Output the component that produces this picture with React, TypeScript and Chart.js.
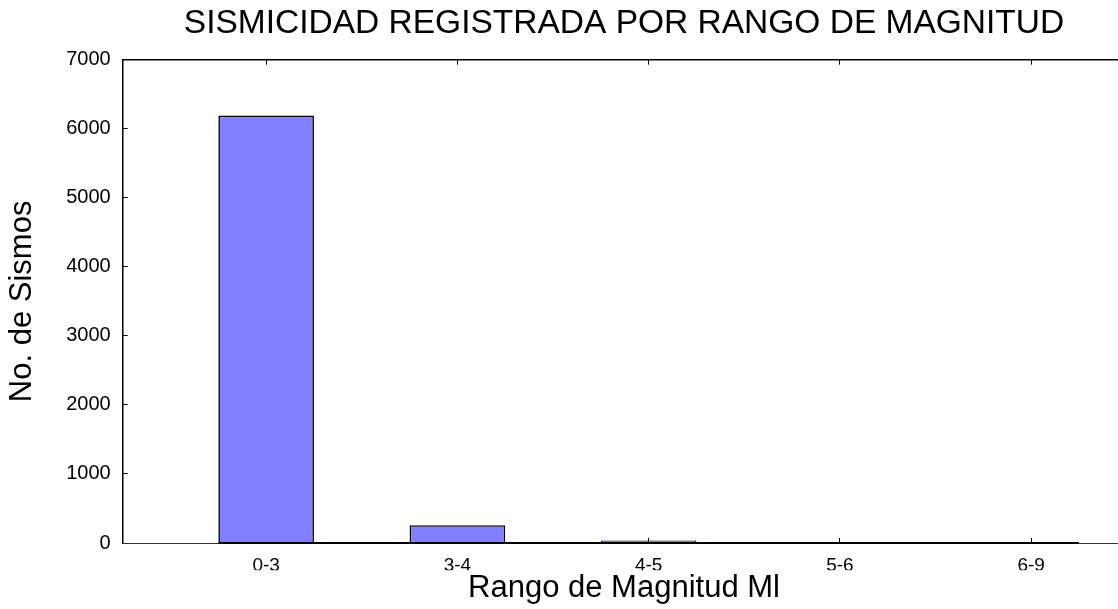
import React, { useEffect, useRef } from "react";
import { Chart, registerables } from "chart.js";

Chart.register(...registerables);

const titleText = "SISMICIDAD REGISTRADA POR RANGO DE MAGNITUD";
const xTitle = "Rango de Magnitud Ml";
const yTitle = "No. de Sismos";
const categories = ["0-3", "3-4", "4-5", "5-6", "6-9"];
const counts = [6190, 258, 36, 6, 1];
const yMin = 0;
const yMax = 7000;
const yStep = 1000;

const FONT = "'Liberation Sans', Arial, Helvetica, sans-serif";
const BAR_FRACTION = 0.5;

export default function App() {
  const ref = useRef<HTMLCanvasElement | null>(null);

  useEffect(() => {
    if (!ref.current) return;
    const idx = categories.map((_, i) => i);
    const catTicks = (scale: any) => {
      scale.ticks = idx.map((i) => ({ value: i }));
    };
    const xMin = -0.75;
    const xMax = categories.length - 1 + 0.75;
    const chart = new Chart(ref.current, {
      type: "bar",
      data: {
        datasets: [
          {
            type: "line",
            data: [
              { x: -BAR_FRACTION / 2, y: 0 },
              { x: categories.length - 1 + BAR_FRACTION / 2, y: 0 },
            ],
            borderColor: "#000",
            borderWidth: 2,
            pointRadius: 0,
            clip: false,
            order: 0,
          } as any,
          {
            type: "bar",
            data: counts.map((v, i) => ({ x: i, y: v })),
            backgroundColor: "#8080ff",
            borderColor: "#000",
            borderWidth: 1.6,
            categoryPercentage: BAR_FRACTION,
            barPercentage: 1,
            order: 1,
          } as any,
        ],
      },
      options: {
        responsive: false,
        animation: false,
        devicePixelRatio: 1,
        layout: { padding: 0 },
        plugins: {
          legend: { display: false },
          tooltip: { enabled: false },
          title: {
            display: true,
            text: titleText,
            color: "#000",
            font: { family: FONT, size: 33.5, weight: "normal" },
            padding: { top: 4, bottom: 15.5 },
          },
          subtitle: {
            display: true,
            position: "bottom",
            text: xTitle,
            color: "#000",
            font: { family: FONT, size: 31, weight: "normal" },
            padding: { top: 0, bottom: 1.5 },
          },
        },
        scales: {
          x: {
            type: "linear",
            position: "bottom",
            offset: false,
            min: xMin,
            max: xMax,
            afterBuildTicks: catTicks,
            afterFit: (s: any) => {
              s.height = 27.3;
            },
            ticks: {
              autoSkip: false,
              maxRotation: 0,
              padding: 16.6,
              color: "#000",
              font: { family: FONT, size: 19 },
              callback: (v: any) => categories[v as number] ?? "",
            },
            grid: {
              offset: false,
              drawOnChartArea: false,
              tickLength: -5,
              color: "#000",
              lineWidth: 1,
            },
            border: { display: true, color: "#333", width: 1 },
          },
          x2: {
            type: "linear",
            position: "top",
            offset: false,
            min: xMin,
            max: xMax,
            afterBuildTicks: catTicks,
            afterFit: (s: any) => {
              s.height = 0;
            },
            ticks: { display: false },
            grid: {
              offset: false,
              drawOnChartArea: false,
              tickLength: -5,
              color: "#000",
              lineWidth: 1,
            },
            border: { display: true, color: "#000", width: 1.5 },
          },
          y: {
            type: "linear",
            position: "left",
            min: yMin,
            max: yMax,
            afterFit: (s: any) => {
              s.width = 122.7;
            },
            ticks: {
              stepSize: yStep,
              padding: 17,
              color: "#000",
              font: { family: FONT, size: 20 },
              callback: (v: any) => String(v),
            },
            grid: {
              drawOnChartArea: false,
              tickLength: -5,
              color: "#000",
              lineWidth: 1,
            },
            border: { display: true, color: "#000", width: 1.5 },
            title: {
              display: true,
              text: yTitle,
              color: "#000",
              font: { family: FONT, size: 31 },
              padding: { top: 4, bottom: 0 },
            },
          },
          yRight: {
            type: "linear",
            position: "right",
            min: yMin,
            max: yMax,
            afterFit: (s: any) => {
              s.width = 73.4;
            },
            ticks: { display: false },
            grid: { display: false, drawOnChartArea: false },
            border: { display: false },
          },
        },
      },
    });
    return () => chart.destroy();
  }, []);

  return (
    <div
      style={{
        position: "fixed",
        left: 0,
        top: 0,
        width: 1118,
        height: 609,
        overflow: "hidden",
        background: "#fff",
      }}
    >
      <canvas ref={ref} width={1248} height={609} style={{ display: "block" }} />
    </div>
  );
}
